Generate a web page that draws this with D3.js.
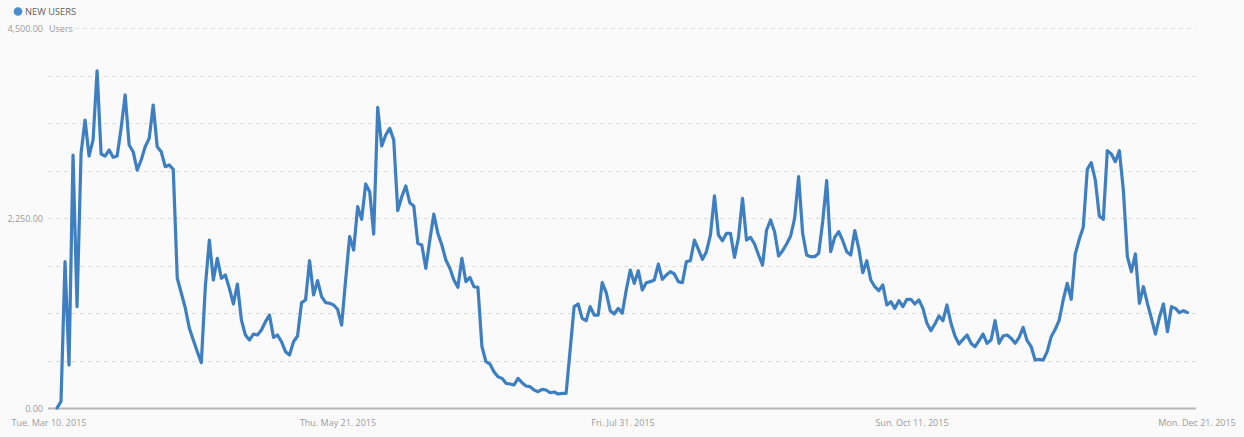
<!DOCTYPE html>
<html><head><meta charset="utf-8">
<script src="https://cdn.jsdelivr.net/npm/d3@7/dist/d3.min.js"></script>
<style>
html,body{margin:0;padding:0;background:#fafafa;}
svg{display:block;font-family:"Open Sans",sans-serif;}
</style></head>
<body><svg id="c" width="1244" height="437"></svg>
<script>
const seriesName = "NEW USERS";
const unitLabel = "Users";
const startDate = "2015-03-10";
const endDate = "2015-12-21";
const tickDates = ["2015-03-10","2015-05-21","2015-07-31","2015-10-11","2015-12-21"];
const tickLabels = ["Tue. Mar 10. 2015","Thu. May 21. 2015","Fri. Jul 31. 2015","Sun. Oct 11. 2015","Mon. Dec 21. 2015"];
const yLabelValues = [0, 2250, 4500];
const yLabelTexts = ["0.00", "2,250.00", "4,500.00"];
const newUsers = [
0,78,1733,509,2996,1200,3016,3410,2984,3174,3994,3008,2984,3055,2969,2984,3316,3707,3114,3035,
2818,2937,3094,3193,3588,3094,3035,2858,2878,2826,1536,1362,1184,947,805,667,537,1436,1989,1516,
1773,1536,1575,1417,1232,1468,1042,864,805,876,864,924,1022,1101,837,864,785,667,628,785,
853,1247,1279,1744,1338,1508,1318,1247,1240,1220,1169,983,1516,2029,1871,2384,2234,2653,2562,2060,
3561,3103,3233,3312,3174,2337,2502,2629,2431,2392,1950,1930,1654,1989,2297,2068,1930,1753,1654,1516,
1429,1773,1496,1547,1436,1429,726,548,521,430,371,351,292,284,272,351,300,261,253,213,
193,221,213,181,189,166,174,174,687,1200,1232,1062,1034,1200,1101,1101,1484,1366,1152,1113,
1180,1121,1397,1634,1476,1626,1397,1484,1496,1516,1705,1524,1575,1614,1587,1496,1484,1733,1744,1989,
1879,1761,1851,2049,2511,2049,1981,2068,2068,1784,2021,2483,1989,2021,1942,1812,1693,2108,2226,2088,
1800,1863,1942,2037,2246,2739,2068,1812,1792,1792,1832,2206,2692,1851,2021,2088,1981,1851,1812,2100,
1891,1602,1744,1516,1436,1389,1457,1220,1259,1180,1271,1200,1287,1287,1232,1279,1180,1003,916,995,
1089,1034,1220,1003,853,758,813,864,766,726,797,876,766,805,1034,766,853,864,825,766,
837,955,797,726,568,576,568,667,845,932,1042,1279,1476,1287,1824,1997,2140,2826,2905,2700,
2274,2234,3047,3008,2917,3047,2582,1792,1614,1824,1240,1436,1240,1062,876,1074,1232,904,1200,1180,
1129,1152,1129
];

const svg = d3.select("#c");
const axisLeft = 48, axisRight = 1196;
const y = d3.scaleLinear().domain([0, 4500]).range([408, 28]);
const xi = d3.scaleLinear().domain([0, newUsers.length - 1]).range([57, 1187.5]);
const parse = d3.timeParse("%Y-%m-%d");
const xt = d3.scaleTime().domain([parse(startDate), parse(endDate)]).range([axisLeft + 1, axisRight + 1]);

// gridlines
const gridVals = d3.range(1, 9).map(i => i * 4500 / 8);
svg.append("g").selectAll("line").data(gridVals).join("line")
  .attr("x1", d => d === 4500 ? 75 : axisLeft)
  .attr("x2", axisRight)
  .attr("y1", d => Math.round(y(d)) + 0.5)
  .attr("y2", d => Math.round(y(d)) + 0.5)
  .attr("stroke", "#dcdcdc").attr("stroke-width", 1)
  .attr("stroke-dasharray", "4,4");

// y labels
svg.append("g").selectAll("text").data(yLabelValues).join("text")
  .attr("x", 43).attr("y", d => y(d) + 3.5)
  .attr("text-anchor", "end")
  .attr("font-size", "9px").attr("fill", "#9a9a9a")
  .text((d, i) => yLabelTexts[i]);
svg.append("text").attr("x", 49).attr("y", y(4500) + 3.5)
  .attr("font-size", "9px").attr("fill", "#9a9a9a").text(unitLabel);

// x axis baseline
svg.append("line").attr("x1", axisLeft).attr("x2", axisRight)
  .attr("y1", 408.5).attr("y2", 408.5)
  .attr("stroke", "#b8b8b8").attr("stroke-width", 2);

// x labels
svg.append("g").selectAll("text").data(tickDates).join("text")
  .attr("x", d => xt(parse(d)))
  .attr("y", 426)
  .attr("text-anchor", "middle")
  .attr("font-size", "9px").attr("fill", "#9a9a9a")
  .text((d, i) => tickLabels[i]);

// line
const line = d3.line().x((d, i) => xi(i)).y(d => y(d));
svg.append("path").datum(newUsers)
  .attr("d", line)
  .attr("fill", "none").attr("stroke", "#3d7fc0")
  .attr("stroke-width", 3.2).attr("stroke-linejoin", "round").attr("stroke-linecap", "round");

// legend
svg.append("circle").attr("cx", 18).attr("cy", 11.5).attr("r", 4.3).attr("fill", "#4a8ccd");
svg.append("text").attr("x", 25).attr("y", 15)
  .attr("font-size", "9.3px").attr("fill", "#606060").text(seriesName);
</script>
</body></html>
